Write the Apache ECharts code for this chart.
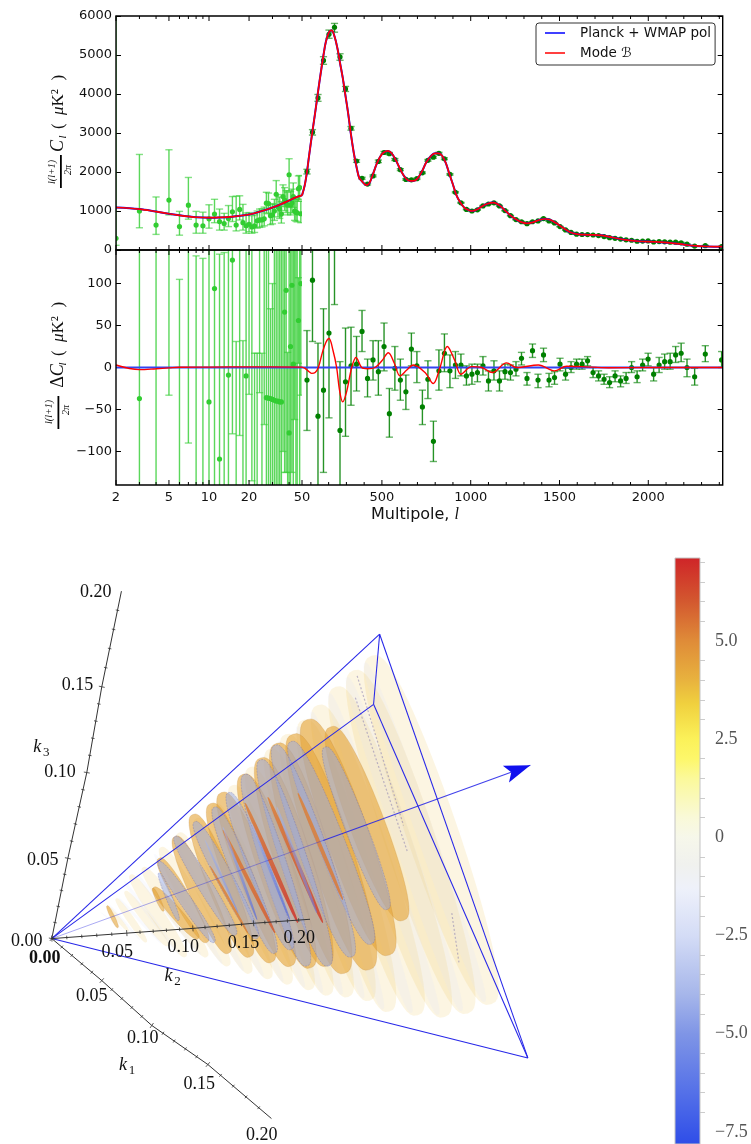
<!DOCTYPE html>
<html><head><meta charset="utf-8">
<style>html,body{margin:0;padding:0;background:#fff}#c{width:751px;height:1144px}</style>
<script src="https://cdn.jsdelivr.net/npm/echarts@6/dist/echarts.min.js"></script>
</head><body><div id="c"></div>
<script>
// ---------- power spectrum data ----------
const lowL=[2,3,4,5,6,7,8,9,10,11,12,13,14,15,16,17,18,19,20,21,22,23,24,25,26,27,28,29,30,31,32,33,34,35,36,37,38,39,40,41,42,43,44,45,46,47,48,49];
const lowVal=[300,1000,640,1280,600,1150,640,620,800,920,730,680,810,980,640,1040,700,620,660,590,620,750,770,770,800,1200,1190,880,900,1000,1430,1100,1050,920,1370,1280,1200,1150,1930,1150,1210,1370,1000,970,950,1570,1600,930];
const lowHi=[6500,2450,1360,2570,990,1860,990,970,1160,1300,1050,940,1140,1370,1380,1390,1170,950,960,880,900,1000,1050,1060,1100,1480,1460,1170,1190,1300,1780,1420,1360,1240,1670,1600,1520,1480,2340,1500,1560,1720,1340,1310,1300,1900,1910,1250];
const lowLo=[120,570,400,900,380,790,430,430,560,700,510,510,600,730,490,770,510,430,470,430,450,560,580,590,620,950,930,650,670,760,1160,850,810,690,1110,1010,960,900,1520,900,950,1090,760,740,720,1250,1300,700];
const lowRes=[-790,-37,-340,350,-290,290,-200,-210,-41,94,-109,-160,-9,128,-210,160,-190,-10,200,200,-300,-260,180,-220,170,-36,-36.5,-37,-38,-39,-40,-40,-41,-41,180,66,92,-200,-78,25,98,4,180,-220,200,56,-200,100];
const lowResHi=[-500,1400,380,1640,105,1000,133,130,320,470,135,137,320,520,31,500,32,280,500,500,17,17,400,17,400,200,250,70,100,250,300,250,220,260,400,300,350,18,280,300,400,250,400,200,420,107,180,400];
const lowResLo=[-900,-480,-580,-33,-510,-90,-410,-400,-280,-280,-330,-330,-220,-79,-400,-81,-400,-300,-32,-135,-500,-500,-30,-480,-68,-250,-280,-200,-260,-300,-280,-300,-310,-290,-100,-125,-125,-400,-300,-200,-125,-250,-62,-400,-150,5,-400,-33];

const binL=[78,109,140,171,202,233,264,295,326,357,388,419,450,480,512,542,573,604,635,666,697,728,759,790,821,852,883,914,945,976,1007,1038,1069,1100,1131,1162,1193,1224,1255,1286,1317,1348,1379,1410,1441,1472,1503,1534,1565,1596,1627,1658,1689,1720,1751,1782,1813,1844,1875,1906,1937,1968,1999,2030,2061,2092,2123,2154,2185,2218,2261,2321,2413];
const binVal=[2010,3020,3900,4860,5530,5710,4950,4130,3120,2280,1840,1690,1900,2270,2500,2470,2320,2060,1810,1800,1830,1980,2300,2380,2480,2340,1940,1480,1210,1040,1000,1030,1130,1180,1210,1130,1010,880,780,725,675,725,745,805,745,695,600,515,450,405,398,395,385,370,345,315,300,280,262,250,225,230,232,205,215,210,200,200,185,150,100,110,90];
const binRes=[-15,104,-58,-27,41,200,-75,-17,2,4,43,-13,9,-5,25,-55,-1,-15,-29,22,2,-47,-14,-88,-4,17,-4,3,3,-10,-8,-6,2,-16,-4,-16,-5,-6,-2,11,-13,20,-15,15,-15,-12,4,-8,0,4,4,8,-6,-10,-14,-18,-10,-16,-13,0,-11,3,10,-8,3,7,7,15,17,0,-11,16,9];
const binHi=[44,170,29,70,150,300,7,47,48,37,68,10,32,32,53,-25,25,10,-9,41,19,-27,8,-64,21,40,15,19,16,2,4,4,13,-4,8,-4,4,3,7,18,-6,28,-8,23,-7,-5,11,-1,7,10,10,13,0,-4,-8,-11,-4,-10,-6,7,-4,10,17,0,12,16,17,25,29,10,-1,26,19];
const binLo=[-75,31,-145,-125,-60,75,-160,-82,-45,-28,19,-35,-15,-33,-4,-83,-27,-39,-50,2,-18,-68,-37,-112,-27,-5,-24,-13,-10,-21,-20,-17,-9,-28,-15,-28,-14,-15,-10,3,-21,12,-24,7,-23,-20,-4,-15,-6,-2,-2,2,-12,-16,-20,-24,-17,-23,-19,-6,-18,-4,2,-16,-6,-2,-2,6,7,-11,-21,7,0];

const modelLowL=[2,3,4,5,6,7,8,10,12,15,20,25,30,35,40,45,50];
const modelLowV=[1090,1050,985,930,890,860,840,830,835,855,910,1000,1090,1180,1270,1350,1400];
const modelHighL=[50,65,78,90,109,125,140,155,171,185,202,217,233,250,264,280,295,310,326,342,357,372,388,405,415,430,450,470,490,510,534,555,580,600,620,640,660,678,700,725,750,780,800,819,840,860,880,900,920,940,965,990,1010,1035,1060,1090,1128,1160,1190,1220,1250,1285,1316,1350,1385,1420,1450,1480,1520,1560,1607,1660,1738,1800,1870,1945,2030,2120,2200,2250,2330,2420];
const modelHighV=[1400,1650,2000,2420,3050,3550,4050,4520,5000,5350,5580,5630,5480,5160,4800,4400,3950,3500,2950,2480,2130,1850,1760,1680,1665,1720,1950,2200,2390,2500,2540,2480,2290,2100,1930,1810,1770,1770,1830,2010,2250,2430,2480,2480,2410,2230,1950,1680,1400,1230,1080,1020,1000,1040,1110,1180,1215,1150,1030,900,800,715,685,710,770,795,770,690,570,455,402,390,376,320,260,225,210,185,140,111,90,85];
const diffLowL=[2,3,4,5,6,10,20,50];
const diffLowV=[3,-2.5,-1.5,-0.5,0.3,0.5,0.8,0.5];
const diffHighL=[50,67,90,105,124,142,165,185,202,225,245,262,279,300,330,354,386,419,461,500,536,570,602,640,677,743,789,827,868,911,945,1005,1062,1122,1202,1259,1381,1471,1540,1625,1775,2000,2420];
const diffHighV=[0.5,-1,-5,-7,-6,0,18,30,34.5,20,0,-28,-41,-30,0,12,0,-1.5,0,8,17.5,5,-10,-3,3,-6,-19,0,25,8,-8,1,0,-6,5.5,0,3,-4,1.5,1,-0.3,0,0];
const zeroLowL=[2,50], zeroHighL=[50,2420], zeroV=[0,0];

const logTicks=[2,3,4,5,6,7,8,9,10,20,30,40,50], logMajor=[2,5,10,20,50];
const linTicks=[100,200,300,400,500,600,700,800,900,1000,1100,1200,1300,1400,1500,1600,1700,1800,1900,2000,2100,2200,2300,2400], linMajor=[500,1000,1500,2000];
const logLabels=[2,5,10,20,50], linLabels=[500,1000,1500,2000];
const dlLabels=[0,1000,2000,3000,4000,5000,6000], diffLabels=[-100,-50,0,50,100];

// ---------- bispectrum picture (measured in the projected plane of the view) ----------
const vertX=[145,1063,1046,1478], vertY=[1010,176,368,1337];           // origin, A, B, C
const edgeFrom=[0,0,0,1,1,2], edgeTo=[1,2,3,2,3,3];
const arrowFromX=[145,905], arrowFromY=[1010,741], arrowTipX=1485, arrowTipY=535;

const paleTopX=[1040,990,940,890,850,800,755,700,650,600,550,500,450,400,365,350,325,300];
const paleTopY=[235,275,320,370,410,450,490,540,590,640,680,720,760,815,835,880,900,920];
const paleBotX=[1375,1310,1245,1170,1090,1035,975,920,870,810,755,700,640,580,520,470,410,360];
const paleBotY=[1190,1215,1225,1220,1210,1180,1170,1165,1150,1135,1120,1105,1085,1060,1060,1030,1020,990];
const orangeTopX=[925,860,820,775,730,680,620,590,540,490,445,430,428,300];
const orangeTopY=[430,410,450,475,515,560,610,640,670,730,790,870,872,920];
const orangeBotX=[1130,1090,1035,965,915,870,815,760,700,640,580,555,458,330];
const orangeBotY=[960,1055,1095,1105,1085,1090,1085,1075,1060,1050,1020,1010,935,980];
const greyTopX=[910,815,770,730,685,640,600,545,490,445,445];
const greyTopY=[485,470,480,520,560,610,650,690,730,800,830];
const greyBotX=[1085,1040,985,920,860,815,770,720,660,600,500];
const greyBotY=[930,1025,1060,1085,1085,1040,1050,1010,1000,1020,960];
const hotTopX=[834,750,686,624,588], hotTopY=[611,622,638,712,811];
const hotBotX=[960,904,834,770,694], hotBotY=[904,967,967,995,995];
const hotVal=[5.4,6.6,6.9,6.0,5.2];
const coldTopX=[775,705,624,574], coldTopY=[649,694,704,740];
const coldBotX=[887,812,720,667], coldBotY=[940,959,959,940];
const coldVal=[-6,-7.4,-7.2,-5.5];
const ghostTopX=[1000,995,1265], ghostTopY=[290,350,940];
const ghostBotX=[1130,1140,1285], ghostBotY=[700,770,1075];

const k1TickX=[145,285,425,582,760], k1TickY=[1010,1125,1248,1355,1503];
const k2TickX=[145,355,540,710,868], k2TickY=[1010,995,982,968,957];
const k3TickX=[145,190,243,285,340], k3TickY=[1010,790,555,320,58];
const tickText=['0.00','0.05','0.10','0.15','0.20'];
const k1LabelX=[0,257,400,558,733], k1LabelY=[0,1168,1282,1408,1548];
const k2LabelX=[0,328,513,682,838], k2LabelY=[0,1048,1033,1022,1010];
const k3LabelX=[75,120,168,217,268], k3LabelY=[1018,795,555,315,62];
const zeroBoldX=125, zeroBoldY=1065;
const kNames=['1','2','3'], kNameX=[353,480,113], kNameY=[1362,1118,490];

// ---------- colour bar ----------
const cbMin=-7.81, cbMax=7.11;
const cbValues=[7.11,6,5,4,3.4,2.5,2,1.5,0.5,0,-0.7,-1.3,-2.5,-4,-5,-6.5,-7.81];
const cbColors=['#cf2428','#d3582f','#df8b38','#e8b23e','#f0d03e','#fbf159','#fdf76a','#fbf99a','#f9f9d8','#f6f7ea','#f0f1ee','#eef1fa','#d4dcf6','#a6b6ea','#7f95e6','#5470e8','#2e4de8'];
const cbMajor=[-7.5,-5,-2.5,0,2.5,5];
const cbMinor=[-7,-6.5,-6,-5.5,-4.5,-4,-3.5,-3,-2,-1.5,-1,-0.5,0.5,1,1.5,2,3,3.5,4,4.5,5.5,6,6.5,7];

// ---------- helpers ----------
const chart=echarts.init(document.getElementById('c'),null,{renderer:'canvas'});
const zip=(...a)=>a[0].map((_,i)=>a.map(b=>b[i]));
const SANS='"DejaVu Sans"', SERIF='"Liberation Serif"';
function ramp(v){
  for(let i=0;i<cbValues.length-1;i++){
    if(v<=cbValues[i]&&v>=cbValues[i+1]){
      return echarts.color.lerp((cbValues[i]-v)/(cbValues[i]-cbValues[i+1]),[cbColors[i],cbColors[i+1]]);
    }
  }
  return v>cbMax?cbColors[0]:cbColors[cbColors.length-1];
}
function custom(data,renderItem,idx,z,extra){
  return Object.assign({type:'custom',coordinateSystem:'cartesian2d',xAxisIndex:idx,yAxisIndex:idx,data,renderItem,z,silent:true,animation:false,encode:{x:0,y:1}},extra||{});
}
function errBars(color,barOp,capOp){
  return function(p,api){
    const l=api.value(0), c=api.coord([l,api.value(1)]), hi=api.coord([l,api.value(2)]), lo=api.coord([l,api.value(3)]);
    const cap=3.6;
    return {type:'group',children:[
      {type:'line',shape:{x1:hi[0],y1:hi[1],x2:lo[0],y2:lo[1]},style:{stroke:color,lineWidth:1.4,opacity:barOp}},
      {type:'line',shape:{x1:hi[0]-cap,y1:hi[1],x2:hi[0]+cap,y2:hi[1]},style:{stroke:color,lineWidth:1.4,opacity:capOp}},
      {type:'line',shape:{x1:lo[0]-cap,y1:lo[1],x2:lo[0]+cap,y2:lo[1]},style:{stroke:color,lineWidth:1.4,opacity:capOp}},
      {type:'circle',shape:{cx:c[0],cy:c[1],r:2.6},style:{fill:color}}
    ]};
  };
}
function tickMarks(majors){
  return function(p,api){
    const x=api.coord([api.value(0),api.value(1)])[0], s=p.coordSys, len=majors.includes(api.value(0))?5:3;
    return {type:'group',silent:true,children:[
      {type:'line',shape:{x1:x,y1:s.y+s.height,x2:x,y2:s.y+s.height-len},style:{stroke:'#000',lineWidth:1}},
      {type:'line',shape:{x1:x,y1:s.y,x2:x,y2:s.y+len},style:{stroke:'#000',lineWidth:1}}
    ]};
  };
}
function line(name,xs,ys,idx,color,w,z,smooth){
  return {type:'line',name,xAxisIndex:idx,yAxisIndex:idx,data:zip(xs,ys),showSymbol:false,symbol:'none',smooth:smooth?0.35:false,
    lineStyle:{color,width:w},itemStyle:{color},z,silent:true,animation:false,clip:true};
}
function ellipse(opts){
  return function(p,api){
    const a=api.coord([api.value(0),api.value(1)]), b=api.coord([api.value(2),api.value(3)]);
    const cx=(a[0]+b[0])/2, cy=(a[1]+b[1])/2, dx=(b[0]-a[0])/2, dy=(b[1]-a[1])/2;
    const L=Math.hypot(dx,dy), hw=L*opts.ratio, nx=-dy/L, ny=dx/L, pts=[];
    for(let i=0;i<64;i++){const t=i/64*2*Math.PI, c=Math.cos(t), s=Math.sin(t), w=Math.sign(s)*Math.pow(Math.abs(s),0.72);
      pts.push([cx+dx*c+nx*hw*w, cy+dy*c+ny*hw*w]);}
    const v=opts.values?opts.values[p.dataIndex]:opts.value;
    const fill=opts.startValue!==undefined
      ? new echarts.graphic.LinearGradient(a[0],a[1],b[0],b[1],[{offset:0,color:ramp(opts.startValue)},{offset:0.55,color:ramp((opts.startValue+v)/2)},{offset:1,color:ramp(v)}],true)
      : ramp(v);
    return {type:'polygon',shape:{points:pts},style:{fill,opacity:opts.opacity,stroke:opts.stroke||null,lineWidth:opts.stroke?1:0,lineDash:opts.dash||null}};
  };
}
function segment(color,w,op,dash){
  return function(p,api){
    const a=api.coord([api.value(0),api.value(1)]), b=api.coord([api.value(2),api.value(3)]);
    return {type:'line',shape:{x1:a[0],y1:a[1],x2:b[0],y2:b[1]},style:{stroke:color,lineWidth:w,opacity:op,lineDash:dash||null}};
  };
}
function kAxis(xs,ys){
  const d=[];
  for(let i=0;i<xs.length-1;i++) d.push([xs[i],ys[i],xs[i+1],ys[i+1]]);
  return d;
}
function kAxisRender(p,api){
  const a=api.coord([api.value(0),api.value(1)]), b=api.coord([api.value(2),api.value(3)]);
  const dx=b[0]-a[0], dy=b[1]-a[1], L=Math.hypot(dx,dy), nx=-dy/L, ny=dx/L, kids=[
    {type:'line',shape:{x1:a[0],y1:a[1],x2:b[0],y2:b[1]},style:{stroke:'#333',lineWidth:1}}];
  for(let i=0;i<=4;i++){const f=i/5, len=i===0?3:1.8, x=a[0]+dx*f, y=a[1]+dy*f;
    kids.push({type:'line',shape:{x1:x-nx*len,y1:y-ny*len,x2:x+nx*len,y2:y+ny*len},style:{stroke:'#333',lineWidth:0.8}});}
  return {type:'group',children:kids};
}
function texts(arr,font){
  return function(p,api){
    const c=api.coord([api.value(0),api.value(1)]);
    return {type:'text',x:c[0],y:c[1],style:{text:arr[p.dataIndex],font,fill:'#111',align:'center',verticalAlign:'middle'}};
  };
}
function kName(p,api){
  const c=api.coord([api.value(0),api.value(1)]);
  return {type:'group',children:[
    {type:'text',x:c[0]-3,y:c[1]-2,style:{text:'k',font:'italic 18px '+SERIF,fill:'#111',align:'center',verticalAlign:'middle'}},
    {type:'text',x:c[0]+6,y:c[1]+4,style:{text:kNames[p.dataIndex],font:'13px '+SERIF,fill:'#111',align:'center',verticalAlign:'middle'}}
  ]};
}
function arrowHead(p,api){
  const t=api.coord([api.value(0),api.value(1)]), f=api.coord([api.value(2),api.value(3)]);
  const dx=t[0]-f[0], dy=t[1]-f[1], L=Math.hypot(dx,dy), ux=dx/L, uy=dy/L, nx=-uy, ny=ux, len=26, w=9;
  const bx=t[0]-ux*len, by=t[1]-uy*len;
  return {type:'polygon',shape:{points:[[t[0],t[1]],[bx+nx*w,by+ny*w],[t[0]-ux*len*0.78,t[1]-uy*len*0.78],[bx-nx*w,by-ny*w]]},style:{fill:'#1010ee'}};
}

// ---------- axes ----------
const tickFont={fontFamily:SANS,fontSize:13,color:'#111'};
const off={show:false};
const grids=[
  {left:116,top:16,width:186,height:234},
  {left:302,top:16,width:420.7,height:234},
  {left:116,top:250,width:186,height:235},
  {left:302,top:250,width:420.7,height:235},
  {left:0,top:550,width:751,height:594},
  {left:675,top:558,width:25,height:586}
];
const xAxes=[
  {gridIndex:0,type:'log',logBase:10,min:2,max:50,axisLine:off,axisTick:off,axisLabel:off,splitLine:off},
  {gridIndex:1,type:'value',min:50,max:2419,axisLine:off,axisTick:off,axisLabel:off,splitLine:off},
  {gridIndex:2,type:'log',logBase:10,min:2,max:50,axisLine:off,axisTick:off,splitLine:off,
    axisLabel:Object.assign({customValues:logLabels,margin:6,showMinLabel:true,showMaxLabel:true,formatter:v=>String(Math.round(v))},tickFont)},
  {gridIndex:3,type:'value',min:50,max:2419,axisLine:off,axisTick:off,splitLine:off,
    axisLabel:Object.assign({customValues:linLabels,margin:6,formatter:v=>String(v)},tickFont)},
  {gridIndex:4,type:'value',min:0,max:2102.8,show:false,splitLine:off},
  {gridIndex:5,type:'value',min:0,max:1,show:false,splitLine:off}
];
const yTick=(vals)=>({show:true,inside:true,length:5,customValues:vals,lineStyle:{color:'#000',width:1}});
const yAxes=[
  {gridIndex:0,type:'value',min:0,max:6000,axisLine:off,splitLine:off,axisTick:yTick(dlLabels),
    axisLabel:Object.assign({customValues:dlLabels,margin:4,formatter:v=>String(v)},tickFont)},
  {gridIndex:1,type:'value',position:'right',min:0,max:6000,axisLine:off,splitLine:off,axisTick:yTick(dlLabels),axisLabel:off},
  {gridIndex:2,type:'value',min:-140,max:140,axisLine:off,splitLine:off,axisTick:yTick(diffLabels),
    axisLabel:Object.assign({customValues:diffLabels,margin:4,formatter:v=>(v<0?'\u2212':'')+Math.abs(v)},tickFont)},
  {gridIndex:3,type:'value',position:'right',min:-140,max:140,axisLine:off,splitLine:off,axisTick:yTick(diffLabels),axisLabel:off},
  {gridIndex:4,type:'value',min:-54.8,max:1572.8,inverse:true,show:false,splitLine:off},
  {gridIndex:5,type:'value',position:'right',min:cbMin,max:cbMax,splitLine:off,axisLine:off,
    axisTick:{show:true,customValues:cbMajor,length:8,lineStyle:{color:'#777',width:1}},
    axisLabel:{customValues:cbMajor,margin:15,fontFamily:SERIF,fontSize:18,color:'#555',
      formatter:v=>v===0?'0':(v<0?'\u2212':'')+Math.abs(v).toFixed(1)}},
  {gridIndex:5,type:'value',position:'right',min:cbMin,max:cbMax,splitLine:off,axisLine:off,axisLabel:off,
    axisTick:{show:true,customValues:cbMinor,length:5,lineStyle:{color:'#ccc',width:1}}}
];

// ---------- series ----------
const PLANE=4;
const series=[
  custom(zip(lowL,lowVal,lowHi,lowLo),errBars('#32cd32',0.8,0.6),0,3,{clip:true}),
  custom(zip(binL,binVal,binL.map((_,i)=>binVal[i]+binHi[i]-binRes[i]),binL.map((_,i)=>binVal[i]+binLo[i]-binRes[i])),errBars('#008000',0.85,0.6),1,3,{clip:true}),
  line('Planck + WMAP pol',modelLowL,modelLowV,0,'#0000ff',2,4,true),
  line('Planck + WMAP pol',modelHighL,modelHighV,1,'#0000ff',2,4,true),
  line('Mode \u212C',modelLowL,modelLowV,0,'#ff0000',1.7,5,true),
  line('Mode \u212C',modelHighL,modelHighV,1,'#ff0000',1.7,5,true),

  custom(zip(lowL,lowRes,lowResHi,lowResLo),errBars('#32cd32',0.8,0.6),2,3,{clip:true}),
  custom(zip(binL,binRes,binHi,binLo),errBars('#008000',0.85,0.6),3,3,{clip:true}),
  line('zeroL',zeroLowL,zeroV,2,'#3344f0',2,4,false),
  line('zeroH',zeroHighL,zeroV,3,'#3344f0',2,4,false),
  line('diffL',diffLowL,diffLowV,2,'#ff0000',1.4,5,true),
  line('diffH',diffHighL,diffHighV,3,'#ff0000',1.4,5,true),

  custom(logTicks.map(v=>[v,0]),tickMarks(logMajor),0,8),
  custom(linTicks.map(v=>[v,0]),tickMarks(linMajor),1,8),
  custom(logTicks.map(v=>[v,0]),tickMarks(logMajor),2,8),
  custom(linTicks.map(v=>[v,0]),tickMarks(linMajor),3,8),

  // bispectrum slices
  custom(zip(paleTopX,paleTopY,paleBotX,paleBotY),ellipse({ratio:0.14,value:3.8,opacity:0.15}),PLANE,2),
  custom(zip(paleTopX,paleTopY,paleBotX,paleBotY).map(r=>[r[0]-18,r[1]+18,r[2]-18,r[3]-6]),ellipse({ratio:0.05,value:-2.2,opacity:0.18}),PLANE,2),
  custom(zip(ghostTopX,ghostTopY,ghostBotX,ghostBotY),segment('#8a80b0',1.2,0.55,[2,2]),PLANE,2),
  custom(zip(orangeTopX,orangeTopY,orangeBotX,orangeBotY),ellipse({ratio:0.17,value:4.3,opacity:0.62,stroke:'rgba(190,130,50,0.35)'}),PLANE,3),
  custom(zip(greyTopX,greyTopY,greyBotX,greyBotY),ellipse({ratio:0.125,value:-4.4,opacity:0.5,stroke:'rgba(95,95,170,0.6)',dash:[2,1]}),PLANE,4),
  custom(zip(hotTopX,hotTopY,hotBotX,hotBotY),ellipse({ratio:0.034,values:hotVal,startValue:5.2,opacity:0.85}),PLANE,5),
  custom(zip(coldTopX,coldTopY,coldBotX,coldBotY),ellipse({ratio:0.028,values:coldVal,startValue:-4,opacity:0.6}),PLANE,5),

  // frame and arrow
  custom(edgeFrom.map((f,i)=>[vertX[f],vertY[f],vertX[edgeTo[i]],vertY[edgeTo[i]]]),segment('#2626e8',1.05,1),PLANE,6),
  custom([[arrowFromX[0],arrowFromY[0],arrowFromX[1],arrowFromY[1]]],segment('#2a2ae0',1,0.4),PLANE,6),
  custom([[arrowFromX[1],arrowFromY[1],arrowTipX,arrowTipY]],segment('#2020e8',1.1,0.85),PLANE,6),
  custom([[arrowTipX,arrowTipY,arrowFromX[1],arrowFromY[1]]],arrowHead,PLANE,7),

  // k axes
  custom(kAxis(k1TickX,k1TickY),kAxisRender,PLANE,7),
  custom(kAxis(k2TickX,k2TickY),kAxisRender,PLANE,7),
  custom(kAxis(k3TickX,k3TickY),kAxisRender,PLANE,7),
  custom(zip(k1LabelX.slice(1),k1LabelY.slice(1)),texts(tickText.slice(1),'18px '+SERIF),PLANE,9),
  custom(zip(k2LabelX.slice(1),k2LabelY.slice(1)),texts(tickText.slice(1),'18px '+SERIF),PLANE,9),
  custom(zip(k3LabelX,k3LabelY),texts(tickText,'18px '+SERIF),PLANE,9),
  custom([[zeroBoldX,zeroBoldY]],texts(['0.00'],'bold 18px '+SERIF),PLANE,9),
  custom(zip(kNameX,kNameY),kName,PLANE,9),

  // colour bar
  {type:'custom',coordinateSystem:'cartesian2d',xAxisIndex:5,yAxisIndex:5,data:[[0.5,cbMax,cbMin]],encode:{x:0,y:1},silent:true,animation:false,z:3,
   renderItem(p,api){
     const top=api.coord([0,api.value(1)]), bot=api.coord([0,api.value(2)]), s=p.coordSys;
     const stops=cbValues.map((v,i)=>({offset:(cbMax-v)/(cbMax-cbMin),color:cbColors[i]}));
     return {type:'rect',shape:{x:s.x,y:top[1],width:s.width,height:bot[1]-top[1]},
       style:{fill:new echarts.graphic.LinearGradient(0,0,0,1,stops),stroke:'#c4c4c4',lineWidth:1}};
   }}
];

// ---------- text that the math labels need, and panel frames ----------
function rot(x,y,text,font,rich){
  return {type:'text',x,y,rotation:Math.PI/2,silent:true,z:30,style:{text,font,fill:'#111',align:'center',verticalAlign:'middle',rich}};
}
const mathRich={i:{fontFamily:SERIF,fontStyle:'italic',fontSize:17,fill:'#111'},r:{fontFamily:SERIF,fontSize:17,fill:'#111'}};
const graphics=[
  {type:'rect',silent:true,z:29,shape:{x:116,y:16,width:606.7,height:234},style:{fill:'none',stroke:'#000',lineWidth:1.4}},
  {type:'rect',silent:true,z:29,shape:{x:116,y:250,width:606.7,height:235},style:{fill:'none',stroke:'#000',lineWidth:1.4}},
  rot(52,172,'l(l+1)','italic 10px '+SERIF),
  rot(68,170,'2\u03c0','italic 10px '+SERIF),
  {type:'rect',silent:true,z:30,shape:{x:60,y:155,width:1.8,height:33},style:{fill:'#000'}},
  rot(58,146,'C','italic 18px '+SERIF),
  rot(63,137,'l','italic 11px '+SERIF),
  rot(59,102,'(  {i|\u03bc}K\u00b2  )','17px '+SERIF,mathRich),
  rot(49,412,'l(l+1)','italic 10px '+SERIF),
  rot(66.5,410,'2\u03c0','italic 10px '+SERIF),
  {type:'rect',silent:true,z:30,shape:{x:57.5,y:396,width:1.8,height:33},style:{fill:'#000'}},
  rot(58,376,'\u0394{i|C}','18px '+SERIF,{i:{fontFamily:SERIF,fontStyle:'italic',fontSize:18,fill:'#111'}}),
  rot(63,364,'l','italic 11px '+SERIF),
  rot(59,329,'(  {i|\u03bc}K\u00b2  )','17px '+SERIF,mathRich),
  {type:'text',silent:true,z:30,x:415,y:515,style:{text:'Multipole, {i|l}',font:'16px '+SANS,fill:'#111',align:'center',verticalAlign:'middle',rich:{i:{fontFamily:SERIF,fontStyle:'italic',fontSize:16,fill:'#111'}}}}
];

chart.setOption({
  animation:false,
  backgroundColor:'#fff',
  grid:grids,xAxis:xAxes,yAxis:yAxes,series,graphic:graphics,
  legend:{show:true,data:['Planck + WMAP pol','Mode \u212C'],selectedMode:false,orient:'vertical',left:536,top:23,z:20,
    backgroundColor:'#fff',borderColor:'#333',borderWidth:1,borderRadius:3,padding:[1,4,3,9],itemGap:2,itemWidth:20,itemHeight:1.5,icon:'rect',
    textStyle:{fontFamily:SANS,fontSize:13.5,color:'#111',padding:[0,0,0,10],lineHeight:18}}
});
</script></body></html>
